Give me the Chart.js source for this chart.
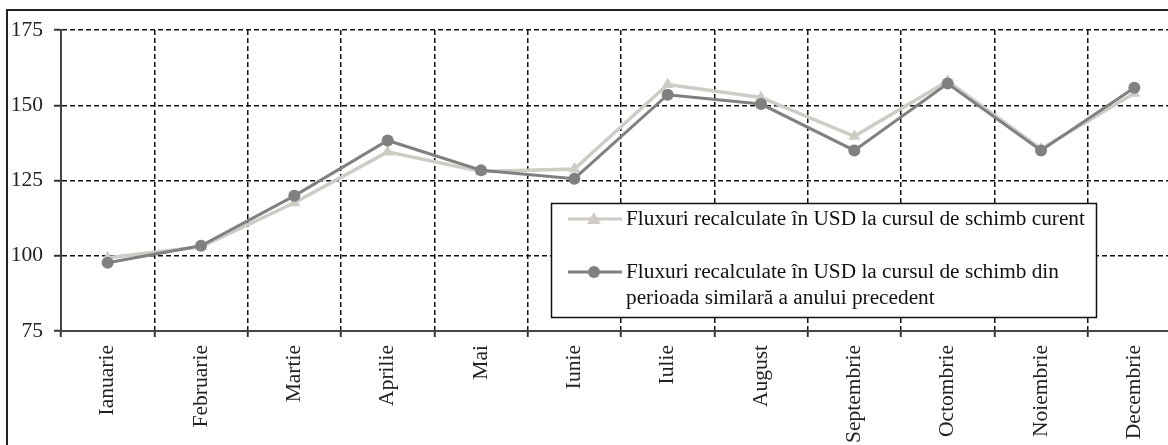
<!DOCTYPE html>
<html>
<head>
<meta charset="utf-8">
<script src="https://cdn.jsdelivr.net/npm/chart.js@4/dist/chart.umd.min.js"></script>
<style>
  html, body { margin: 0; padding: 0; background: #fff; overflow: hidden; }
  #wrap { position: relative; width: 1168px; height: 445px; overflow: hidden; }
  #frame { position: absolute; left: 6px; top: 9px; width: 1200px; height: 500px; border: 2px solid #222; pointer-events: none; }
  canvas { position: absolute; left: 0; top: 0; }
</style>
</head>
<body>
<div id="wrap">
  <canvas id="flows" width="1190" height="445" style="width:1190px;height:445px"></canvas>
  <div id="frame"></div>
</div>
<script>
const months = ["Ianuarie", "Februarie", "Martie", "Aprilie", "Mai", "Iunie", "Iulie", "August", "Septembrie", "Octombrie", "Noiembrie", "Decembrie"];
const currentRate = [99.3, 103, 117.6, 134.5, 128, 128.8, 156.9, 152.6, 139.7, 158, 135.5, 154];
const previousRate = [97.7, 103.3, 119.9, 138.3, 128.4, 125.6, 153.5, 150.4, 135, 157.2, 135, 155.8];
const yTicks = [75, 100, 125, 150, 175];
const currentLabel = ["Fluxuri recalculate în USD la cursul de schimb curent"];
const previousLabel = ["Fluxuri recalculate în USD la cursul de schimb din", "perioada similară a anului precedent"];

const lightGrey = "#cfccc5";
const darkGrey = "#808080";
const fontFamily = "'Liberation Serif', 'Times New Roman', serif";

// legend box drawn by hand, it sits inside the plot like in the original
const boxLegend = {
  id: "boxLegend",
  afterDraw(chart) {
    const ctx = chart.ctx;
    const left = 551.5, top = 203.5, right = 1096.5, bottom = 317.5;
    ctx.save();
    ctx.fillStyle = "#fff";
    ctx.fillRect(left, top, right - left, bottom - top);
    ctx.strokeStyle = "#111";
    ctx.lineWidth = 1.5;
    ctx.strokeRect(left, top, right - left, bottom - top);

    const entries = [
      { lines: currentLabel, color: lightGrey, style: "triangle", y: 219 },
      { lines: previousLabel, color: darkGrey, style: "circle", y: 272 },
    ];
    ctx.font = "21.3px " + fontFamily;
    ctx.textBaseline = "middle";
    ctx.textAlign = "left";
    for (const entry of entries) {
      ctx.strokeStyle = entry.color;
      ctx.lineWidth = 3;
      ctx.beginPath();
      ctx.moveTo(568, entry.y);
      ctx.lineTo(622, entry.y);
      ctx.stroke();
      ctx.fillStyle = entry.color;
      ctx.beginPath();
      if (entry.style === "circle") {
        ctx.arc(594, entry.y, 6, 0, Math.PI * 2);
      } else {
        ctx.moveTo(594, entry.y - 7);
        ctx.lineTo(601, entry.y + 5);
        ctx.lineTo(587, entry.y + 5);
        ctx.closePath();
      }
      ctx.fill();
      ctx.fillStyle = "#111";
      entry.lines.forEach((line, i) => {
        ctx.fillText(line, 626, entry.y + i * 26);
      });
    }
    ctx.restore();
  },
};

new Chart(document.getElementById("flows"), {
  type: "line",
  data: {
    labels: months,
    datasets: [
      {
        label: currentLabel.join(" "),
        data: currentRate,
        borderColor: lightGrey,
        backgroundColor: lightGrey,
        borderWidth: 3.5,
        pointStyle: "triangle",
        pointRadius: 7,
        pointBorderWidth: 0,
        tension: 0,
        order: 2,
      },
      {
        label: previousLabel.join(" "),
        data: previousRate,
        borderColor: darkGrey,
        backgroundColor: darkGrey,
        borderWidth: 3,
        pointStyle: "circle",
        pointRadius: 6,
        pointBorderWidth: 0,
        tension: 0,
        order: 1,
      },
    ],
  },
  options: {
    responsive: false,
    animation: false,
    layout: { padding: { top: 30, right: 9, left: 0, bottom: 0 } },
    plugins: {
      legend: { display: false },
      tooltip: { enabled: false },
    },
    scales: {
      x: {
        offset: true,
        grid: {
          offset: true,
          color: "#111",
          lineWidth: 1.5,
          tickLength: 6,
          tickColor: "#333",
          tickWidth: 2,
        },
        border: { display: true, color: "#444", width: 2, dash: [5, 3] },
        ticks: {
          color: "#222",
          font: { family: fontFamily, size: 21.5 },
          minRotation: 90,
          maxRotation: 90,
          padding: 8,
          autoSkip: false,
        },
        afterFit(scale) {
          scale.height = 114;
        },
      },
      y: {
        min: 75,
        max: 175,
        afterBuildTicks(scale) {
          scale.ticks = yTicks.map((v) => ({ value: v }));
        },
        grid: {
          color: "#111",
          lineWidth: 1.5,
          tickLength: 7,
          tickColor: "#333",
          tickWidth: 2,
        },
        border: { display: true, color: "#444", width: 2, dash: [5, 3] },
        ticks: {
          color: "#222",
          font: { family: fontFamily, size: 21.5 },
          padding: 11,
        },
        afterFit(scale) {
          scale.width = 61;
        },
      },
    },
  },
  plugins: [boxLegend],
});
</script>
</body>
</html>
